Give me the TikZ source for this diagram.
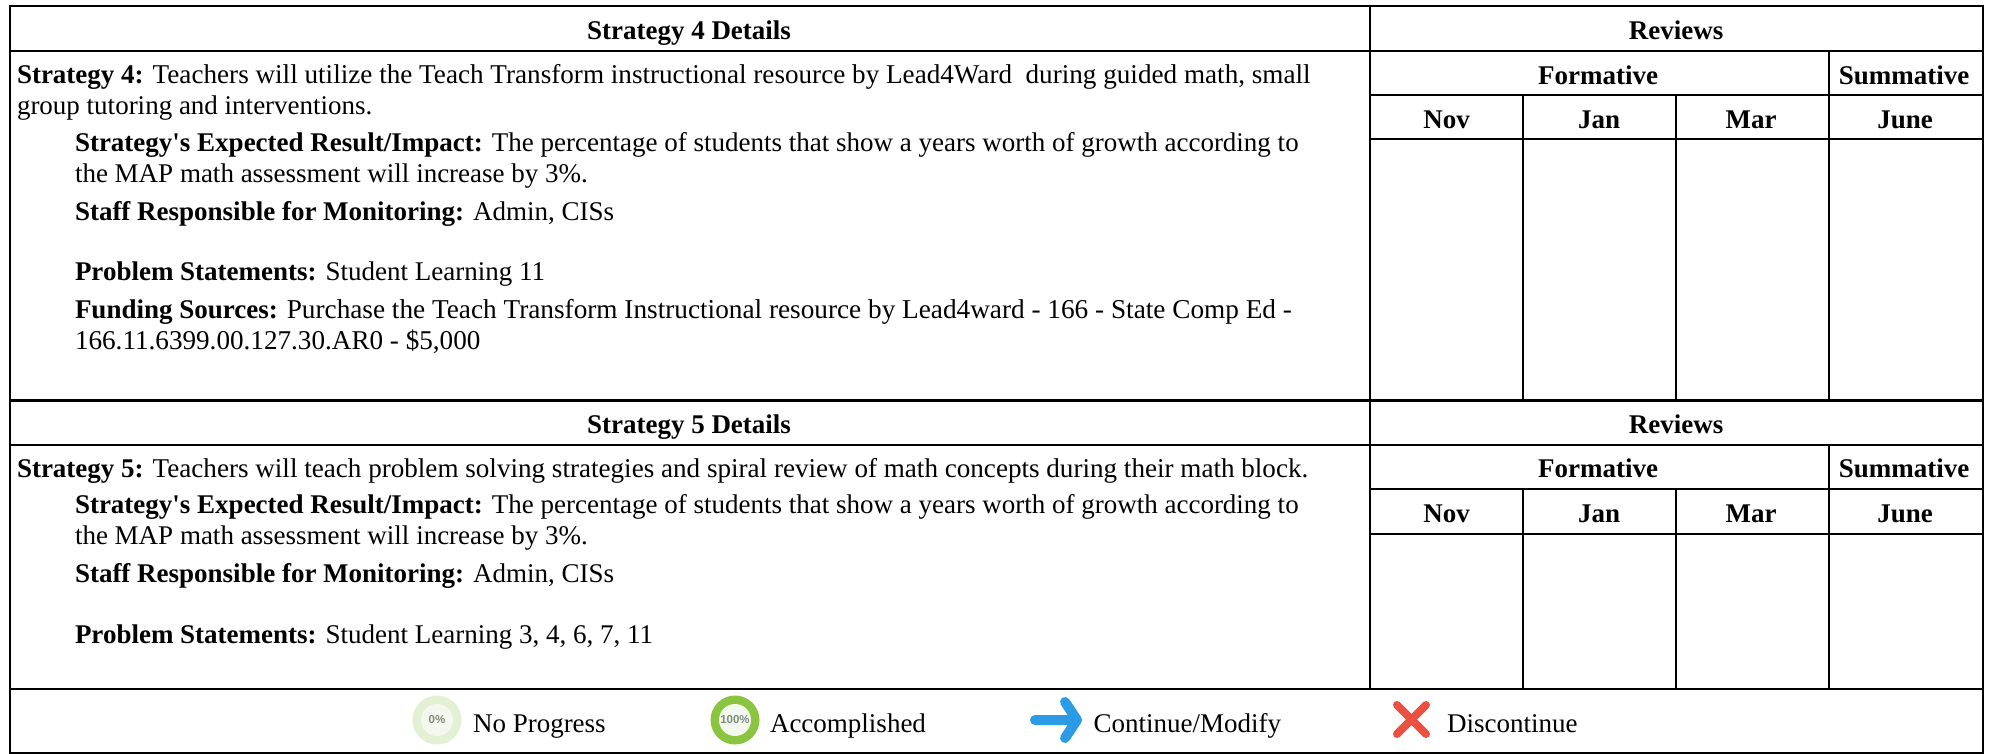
\documentclass[tikz,border=0pt]{standalone}
\usepackage{fontspec}
\setmainfont[Ligatures=ResetAll]{Liberation Serif}
\setsansfont{Liberation Sans}
\definecolor{ringlow}{HTML}{E3F0D3}
\definecolor{innerlow}{HTML}{F3F8EE}
\definecolor{ringhigh}{HTML}{8BC53F}
\definecolor{pctgrey}{HTML}{808A80}
\definecolor{arrowblue}{HTML}{2B9BE6}
\definecolor{crossred}{HTML}{EC5040}
\newcommand{\fitsize}[1]{\fontsize{#1}{32}\selectfont}
\newcommand{\straightapos}{\XeTeXglyph\XeTeXcharglyph"0027\relax}
\tikzset{
  x=1pt,y=-1pt,
  rule/.style={line width=2pt,black},
  heavyrule/.style={line width=3.6pt,black},
  txt/.style={anchor=base west,inner sep=0pt,outer sep=0pt,font=\fontsize{27}{32}\selectfont},
  head/.style={anchor=base,inner sep=0pt,outer sep=0pt,font=\fontsize{27}{32}\selectfont\bfseries},
  pct/.style={inner sep=0pt,text=pctgrey,font=\sffamily\fontsize{11.5}{12}\selectfont},
}
\begin{document}
\begin{tikzpicture}
\useasboundingbox (0,0) rectangle (1991,754);
% frame
\draw[rule] (9.7,6.5) rectangle (1982.5,752.5);
\draw[heavyrule] (9.7,400.5) -- (1982.5,400.5);
\draw[rule] (9.7,689) -- (1982.5,689);
% block 1
\draw[rule] (9.7,50.7) -- (1982.5,50.7);
\draw[rule] (1370,6.5) -- (1370,400);
\draw[rule] (1370,95) -- (1982.5,95);
\draw[rule] (1370,139.5) -- (1982.5,139.5);
\draw[rule] (1828.5,50.7) -- (1828.5,400);
\draw[rule] (1523,95) -- (1523,400);
\draw[rule] (1675.5,95) -- (1675.5,400);
% block 2
\draw[rule] (9.7,445) -- (1982.5,445);
\draw[rule] (1370,400) -- (1370,689);
\draw[rule] (1370,489) -- (1982.5,489);
\draw[rule] (1370,534) -- (1982.5,534);
\draw[rule] (1828.5,445) -- (1828.5,689);
\draw[rule] (1523,489) -- (1523,689);
\draw[rule] (1675.5,489) -- (1675.5,689);
% headers 1
\node[head] (h1) at (689,40) {Strategy 4 Details};
\node[head] (r1) at (1676,40) {Reviews};
\node[head] (f1) at (1598,84.5) {Formative};
\node[head] (s1) at (1904,84.5) {Summative};
\node[head] (n1) at (1446.5,129) {Nov};
\node[head] (j1) at (1599,129) {Jan};
\node[head] (m1) at (1751,129) {Mar};
\node[head] (u1) at (1905,129) {June};
% headers 2
\node[head] (h2) at (689,433) {Strategy 5 Details};
\node[head] (r2) at (1676,433) {Reviews};
\node[head] (f2) at (1598,477) {Formative};
\node[head] (s2) at (1904,477) {Summative};
\node[head] (n2) at (1446.5,522) {Nov};
\node[head] (j2) at (1599,522) {Jan};
\node[head] (m2) at (1751,522) {Mar};
\node[head] (u2) at (1905,522) {June};
% body 1
\node[txt] (a1) at (17,84) {\textbf{Strategy 4:} \fitsize{27.15}Teachers will utilize the Teach Transform instructional resource by Lead4Ward\ \ during guided math, small};
\node[txt] (a2) at (17,115) {group tutoring and interventions.};
\node[txt] (a3) at (75,152) {\textbf{Strategy\straightapos s Expected Result/Impact:} The percentage of students that show a years worth of growth according to};
\node[txt] (a4) at (75,183) {the MAP math assessment will increase by 3\%.};
\node[txt] (a5) at (75,220) {\textbf{Staff Responsible for Monitoring:} Admin, CISs};
\node[txt] (a6) at (75,280) {\textbf{Problem Statements:} Student Learning 11};
\node[txt] (a7) at (75,318) {\textbf{Funding Sources:} \fitsize{27.25}Purchase the Teach Transform Instructional resource by Lead4ward - 166 - State Comp Ed -};
\node[txt] (a8) at (75,349) {\fitsize{27.15}166.11.6399.00.127.30.AR0 - \$5,000};
% body 2
\node[txt] (b1) at (17,477) {\textbf{Strategy 5:} \fitsize{27.1}Teachers will teach problem solving strategies and spiral review of math concepts during their math block.};
\node[txt] (b2) at (75,513) {\textbf{Strategy\straightapos s Expected Result/Impact:} The percentage of students that show a years worth of growth according to};
\node[txt] (b3) at (75,544) {the MAP math assessment will increase by 3\%.};
\node[txt] (b4) at (75,582) {\textbf{Staff Responsible for Monitoring:} Admin, CISs};
\node[txt] (b5) at (75,643) {\textbf{Problem Statements:} Student Learning 3, 4, 6, 7, 11};
% legend
\fill[ringlow] (437,720) circle (24.5);
\fill[innerlow] (437,720) circle (16);
\node[pct] (p0) at (437,720) {\textbf{0\%}};
\node[txt] (l1) at (473,732) {No Progress};
\fill[ringhigh] (735,720) circle (24.5);
\fill[innerlow] (735,720) circle (16);
\node[pct] (p1) at (735,720) {\textbf{100\%}};
\node[txt] (l2) at (770,732) {Accomplished};
\draw[arrowblue,line width=10pt,line cap=round,line join=round] (1035,720) -- (1077,720) (1065,702) -- (1077,720) -- (1065,738);
\node[txt] (l3) at (1093.5,732) {Continue/Modify};
\draw[crossred,line width=8pt,line cap=round] (1397,705) -- (1426,734) (1426,705) -- (1397,734);
\node[txt] (l4) at (1447,732) {Discontinue};
\end{tikzpicture}
\end{document}
